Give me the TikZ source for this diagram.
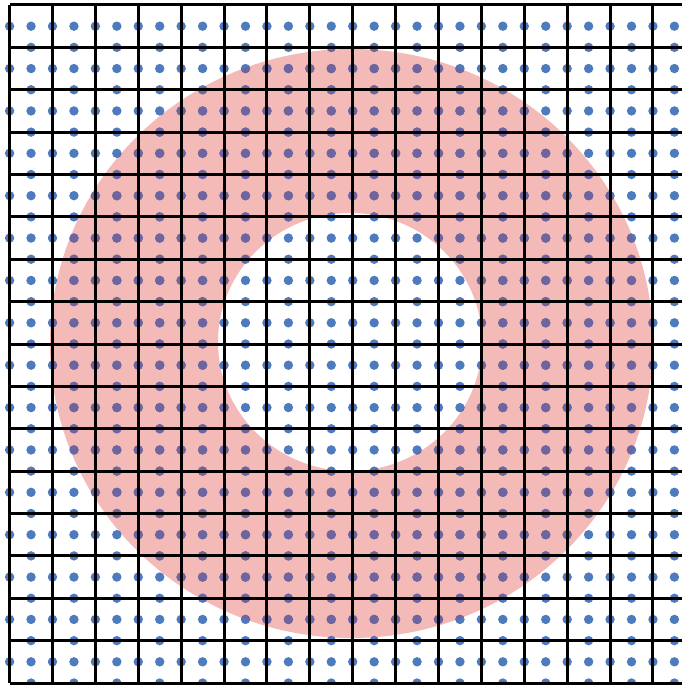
\documentclass[tikz,border=0pt]{standalone}
\definecolor{dotblue}{RGB}{78,122,190}
\definecolor{dotpurple}{RGB}{112,100,158}
\definecolor{ringpink}{RGB}{243,186,184}
\newcommand{\mydotfield}[1]{%
  \foreach \i in {0,...,15} {
    \foreach \j in {0,...,15} {
      \pgfmathsetmacro\cx{\xo+(\i+0.5)*\dx}
      \pgfmathsetmacro\cy{\yo+(\j+0.5)*\dy}
      \pgfmathsetmacro\lx{\xo+\i*\dx}
      \pgfmathsetmacro\by{\yo+(\j+1)*\dy}
      \fill[#1] (\cx,\cy) circle (4.7);
      \fill[#1] (\lx,\cy) circle (4.7);
      \fill[#1] (\cx,\by) circle (4.7);
    }
  }%
}
\begin{document}
\begin{tikzpicture}[x=1pt,y=-1pt,
  gridline/.style={line width=3pt, black},
  dotout/.style={fill=dotblue},
  dotin/.style={fill=dotpurple},
  ring/.style={fill=ringpink, even odd rule}]
\useasboundingbox[fill=white] (0,0) rectangle (682,685);
\def\dx{42.89}
\def\dy{42.375}
\def\xo{9.6}
\def\yo{5}
% pink annulus
\fill[ring] (351.5,343.5) ellipse [x radius=301.5, y radius=294.5]
            (350,342) ellipse [x radius=132, y radius=129];
% staggered dots: cell centres and edge midpoints
\mydotfield{dotout}
\begin{scope}[even odd rule]
  \clip (351.5,343.5) ellipse [x radius=301.5, y radius=294.5]
        (350,342) ellipse [x radius=132, y radius=129];
  \mydotfield{dotin}
\end{scope}
% grid lines
\foreach \i in {0,...,15} {
  \draw[gridline] ({\xo+\i*\dx},\yo) -- ({\xo+\i*\dx},{\yo+16*\dy});
}
\foreach \j in {0,...,16} {
  \draw[gridline] (\xo,{\yo+\j*\dy}) -- (682,{\yo+\j*\dy});
}
\end{tikzpicture}
\end{document}
